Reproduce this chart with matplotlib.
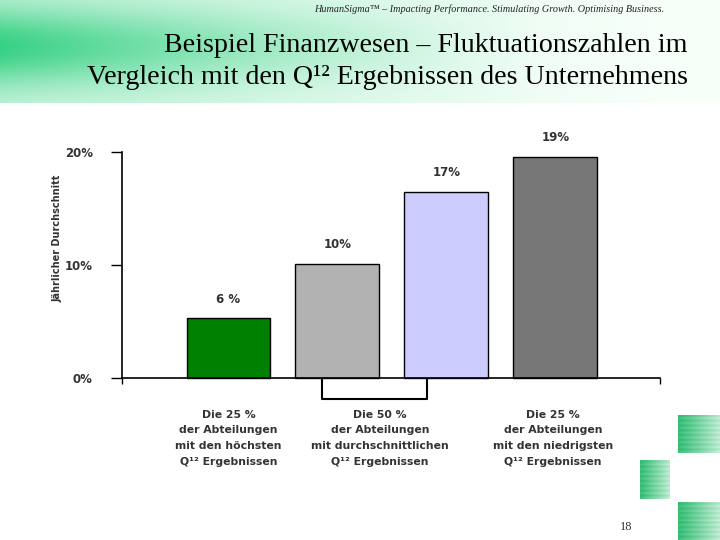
import numpy as np
import matplotlib
matplotlib.use("Agg")
import matplotlib.pyplot as plt
import matplotlib.transforms as mtransforms

# data
values = [5.3, 10.1, 16.5, 19.6]
value_labels = ["6 %", "10%", "17%", "19%"]
bar_colors = ["#008000", "#b2b2b2", "#ccccff", "#777777"]
y_ticks = [0, 10, 20]
y_tick_labels = ["0%", "10%", "20%"]
group_labels = [
    "Die 25 %\nder Abteilungen\nmit den höchsten\nQ¹² Ergebnissen",
    "Die 50 %\nder Abteilungen\nmit durchschnittlichen\nQ¹² Ergebnissen",
    "Die 25 %\nder Abteilungen\nmit den niedrigsten\nQ¹² Ergebnissen",
]
group_label_x = [0.0, 1.39, 2.98]

txt = "#333333"
fig = plt.figure(figsize=(7.2, 5.4), dpi=100)

# green header band
bg = fig.add_axes([0, 0.81, 1, 0.19])
xx = np.linspace(0, 1, 400)
yy = np.linspace(0, 1, 60)
X, Y = np.meshgrid(xx, yy)
strength = np.clip(1 - X / 0.75, 0, 1) ** 1.3 * np.exp(-((Y - 0.45) / 0.38) ** 2)
strength = 0.25 * np.clip(1 - X / 0.9, 0, 1) + 0.75 * strength
green = np.array([0.22, 0.82, 0.52])
white = np.array([0.97, 1.0, 0.98])
img = white + (green - white) * strength[..., None]
bg.imshow(img, aspect="auto", extent=[0, 1, 0, 1])
bg.axis("off")

# green squares at bottom right
for rect in [[678/720, 87/540, 42/720, 38/540],
             [640/720, 41/540, 30/720, 39/540],
             [678/720, 0, 42/720, 38/540]]:
    sq = fig.add_axes(rect)
    g = np.linspace(0, 1, 50)
    s = 1 - 0.7 * g[None, :] + 0.08 * np.sin(np.arange(30)[:, None] * 1.7)
    s = np.clip(s, 0, 1)
    sq.imshow(white + (np.array([0.2, 0.74, 0.45]) - white) * s[..., None],
              aspect="auto", extent=[0, 1, 0, 1])
    sq.axis("off")

fig.text(489/720, 1 - 9/540,
         "HumanSigma™ – Impacting Performance. Stimulating Growth. Optimising Business.",
         ha="center", va="center", fontsize=7.3, style="italic",
         family="Liberation Serif", color="#222222")
fig.text(688/720, 1 - 45/540, "Beispiel Finanzwesen – Fluktuationszahlen im",
         ha="right", va="center", fontsize=20.2, family="Liberation Serif")
fig.text(688/720, 1 - 78/540, "Vergleich mit den Q¹² Ergebnissen des Unternehmens",
         ha="right", va="center", fontsize=20.2, family="Liberation Serif")
fig.text(626/720, 1 - 527/540, "18", ha="center", va="center",
         fontsize=9, family="Liberation Serif", color="#333333")

ax = fig.add_axes([122/720, 0.3, 538/720, 226/540])
x = np.arange(len(values))
bars = ax.bar(x, values, width=0.77, color=bar_colors, edgecolor="black",
              linewidth=1, clip_on=False)
for b, lab in zip(bars, value_labels):
    ax.annotate(lab, (b.get_x() + b.get_width() / 2, b.get_height()),
                xytext=(0, 9), textcoords="offset points", ha="center",
                va="bottom", fontsize=8.5, fontweight="bold", color=txt,
                annotation_clip=False)

ax.set_xlim(-0.977, 3.96)
ax.set_ylim(0, 20)
ax.set_yticks(y_ticks)
ax.set_yticklabels(y_tick_labels, fontsize=8.5, fontweight="bold", color=txt)
ax.set_xticks([-0.977, 3.96])
ax.set_xticklabels([])
ax.tick_params(axis="y", direction="out", length=8, width=1, pad=13)
ax.tick_params(axis="x", direction="out", length=4, width=1)
for s in ["top", "right"]:
    ax.spines[s].set_visible(False)
for s in ["left", "bottom"]:
    ax.spines[s].set_linewidth(1.2)
ax.set_ylabel("Jährlicher Durchschnitt", fontsize=7, fontweight="bold", color=txt)
ax.yaxis.set_label_coords(-0.11, 0.62)

trans = mtransforms.blended_transform_factory(ax.transData, ax.transAxes)
# bracket under the middle group
ax.plot([0.858, 0.858, 1.82, 1.82], [-0.01, -0.092, -0.092, -0.01],
        color="black", lw=1.5, transform=trans, clip_on=False)
for gx, lab in zip(group_label_x, group_labels):
    ax.text(gx, -0.14, lab, transform=trans, ha="center", va="top",
            fontsize=7.8, fontweight="bold", color=txt, linespacing=1.72)

fig.savefig("out.png", dpi=100)
